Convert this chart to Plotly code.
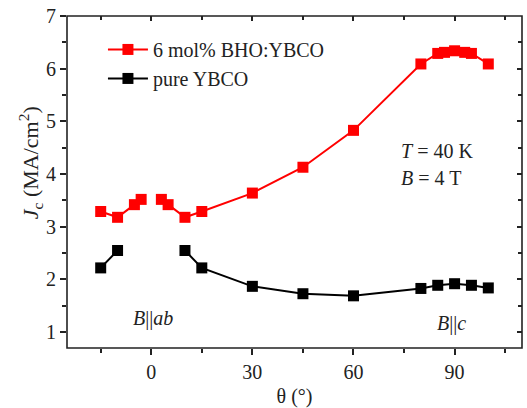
import plotly.graph_objects as go

# Data (None marks a break in the connecting line)
theta_bho = [-15, -10, -5, -3, None, 3, 5, 10, 15, 30, 45, 60, 80, 85, 87, 90, 93, 95, 100]
jc_bho = [3.29, 3.18, 3.42, 3.52, None, 3.52, 3.42, 3.18, 3.29, 3.64, 4.13, 4.83, 6.09, 6.29, 6.31, 6.34, 6.31, 6.29, 6.09]

theta_pure = [-15, -10, None, 10, 15, 30, 45, 60, 80, 85, 90, 95, 100]
jc_pure = [2.22, 2.55, None, 2.55, 2.22, 1.87, 1.73, 1.69, 1.83, 1.89, 1.92, 1.89, 1.84]

x_ticks = [0, 30, 60, 90]
y_ticks = [1, 2, 3, 4, 5, 6, 7]
x_range = [-25, 110]
y_range = [0.7, 7]

FONT = "Times New Roman, Liberation Serif, DejaVu Serif, serif"
AX = "#222222"
TXT = "#222222"
FS = 20

fig = go.Figure()
fig.add_trace(go.Scatter(
    x=theta_bho, y=jc_bho, mode="lines+markers", name="6 mol% BHO:YBCO",
    line=dict(color="#ff0000", width=2), connectgaps=False,
    marker=dict(symbol="square", size=11, color="#ff0000"),
))
fig.add_trace(go.Scatter(
    x=theta_pure, y=jc_pure, mode="lines+markers", name="pure YBCO",
    line=dict(color="#000000", width=2), connectgaps=False,
    marker=dict(symbol="square", size=11, color="#000000"),
))
# dummy trace for mirrored inside-tick axes
fig.add_trace(go.Scatter(x=[None], y=[None], xaxis="x2", yaxis="y2",
                         showlegend=False, hoverinfo="skip"))

common = dict(showgrid=False, zeroline=False, showline=False,
              tickcolor=AX, tickwidth=1.5,
              tickfont=dict(family=FONT, size=FS, color=TXT))

fig.update_layout(
    width=527, height=408,
    margin=dict(l=67, r=5, t=16, b=56),
    paper_bgcolor="white", plot_bgcolor="white",
    font=dict(family=FONT, size=FS, color=TXT),
    showlegend=True,
    legend=dict(x=0.079, y=0.958, xanchor="left", yanchor="top",
                bgcolor="rgba(0,0,0,0)", font=dict(family=FONT, size=FS, color=TXT),
                tracegroupgap=0, itemwidth=40),
    xaxis=dict(range=x_range, tickvals=x_ticks, ticks="outside", ticklen=6,
               minor=dict(dtick=15, tick0=0, ticks="outside", ticklen=4,
                          tickcolor=AX, tickwidth=1.5),
               title=dict(text="θ (°)", font=dict(family=FONT, size=FS, color=TXT), standoff=6),
               **common),
    yaxis=dict(range=y_range, tickvals=y_ticks, ticks="outside", ticklen=6,
               minor=dict(dtick=0.5, tick0=0, ticks="outside", ticklen=4,
                          tickcolor=AX, tickwidth=1.5),
               **common),
    xaxis2=dict(range=x_range, overlaying="x", side="top", anchor="y2",
                tickvals=x_ticks, ticks="inside", ticklen=5, showticklabels=False,
                minor=dict(dtick=15, tick0=0, ticks="inside", ticklen=4,
                           tickcolor=AX, tickwidth=1.5),
                **common),
    yaxis2=dict(range=y_range, overlaying="y", side="right", anchor="x2",
                tickvals=y_ticks, ticks="inside", ticklen=5, showticklabels=False,
                minor=dict(dtick=0.5, tick0=0, ticks="inside", ticklen=4,
                           tickcolor=AX, tickwidth=1.5),
                **common),
)

# plot frame
fig.add_shape(type="rect", xref="paper", yref="paper", x0=0, y0=0, x1=1, y1=1,
              line=dict(color=AX, width=1.6), fillcolor="rgba(0,0,0,0)", layer="above")

# y-axis title (placed like the original, slightly above the axis centre)
fig.add_annotation(x=-0.081, y=4.21, xref="paper", yref="y",
                   xanchor="center", yanchor="middle", textangle=-90,
                   text="<i>J</i><sub>c</sub> (MA/cm<sup>2</sup>)", showarrow=False,
                   font=dict(family=FONT, size=22, color=TXT))

fig.add_annotation(x=73.5, y=4.43, xref="x", yref="y", xanchor="left",
                   text="<i>T</i> = 40 K", showarrow=False,
                   font=dict(family=FONT, size=FS, color=TXT))
fig.add_annotation(x=73.5, y=3.92, xref="x", yref="y", xanchor="left",
                   text="<i>B</i> = 4 T", showarrow=False,
                   font=dict(family=FONT, size=FS, color=TXT))
fig.add_annotation(x=0.5, y=1.26, xref="x", yref="y",
                   text="<i>B</i>||<i>ab</i>", showarrow=False,
                   font=dict(family=FONT, size=FS, color=TXT))
fig.add_annotation(x=89, y=1.17, xref="x", yref="y",
                   text="<i>B</i>||<i>c</i>", showarrow=False,
                   font=dict(family=FONT, size=FS, color=TXT))

fig.write_html("out.html", config={"displayModeBar": False})

# remove the browser's default page margin so the figure sits at (0, 0)
with open("out.html", encoding="utf-8") as f:
    html = f.read()
html = html.replace("<head>", "<head><style>html,body{margin:0;padding:0;overflow:hidden;}</style>", 1)
with open("out.html", "w", encoding="utf-8") as f:
    f.write(html)
